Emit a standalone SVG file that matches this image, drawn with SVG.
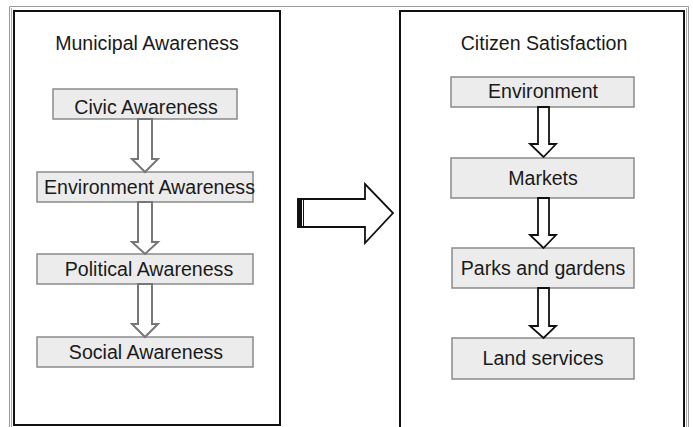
<svg xmlns="http://www.w3.org/2000/svg" width="693" height="427" viewBox="0 0 693 427">
<style>
text{font-family:"Liberation Sans",Arial,sans-serif;font-size:19.6px;fill:#1a1a1a;text-anchor:middle}
.box{fill:#ececec;stroke:#8a8a8a;stroke-width:1.5}
.frame{fill:none;stroke:#111;stroke-width:2}
.ga{fill:#fff;stroke:#777;stroke-width:2;stroke-linejoin:miter}
.ba{fill:#fff;stroke:#111;stroke-width:1.8}
</style>
<rect width="693" height="427" fill="#fff"/>
<g id="outer">
<path d="M9.5 427V6.5H688.5V427" fill="none" stroke="#999" stroke-width="1"/>
<line x1="11.5" y1="8" x2="11.5" y2="427" stroke="#aaa" stroke-width="1"/>
<line x1="686.5" y1="8" x2="686.5" y2="427" stroke="#aaa" stroke-width="1"/>
</g>
<g id="municipal">
<rect class="frame" x="14" y="11" width="266" height="414"/>
<text x="147" y="50">Municipal Awareness</text>
</g>
<g id="citizen">
<path class="frame" d="M400 427V11H684V427"/>
<text x="544" y="50">Citizen Satisfaction</text>
</g>
<g id="civic"><rect class="box" x="53" y="89" width="184" height="30"/><text x="146" y="114">Civic Awareness</text></g>
<g id="envaw"><rect class="box" x="37" y="172" width="216" height="30"/><text x="149.5" y="194">Environment Awareness</text></g>
<g id="political"><rect class="box" x="37" y="254" width="216" height="30"/><text x="149" y="276">Political Awareness</text></g>
<g id="social"><rect class="box" x="37" y="337" width="216" height="30"/><text x="146" y="359">Social Awareness</text></g>
<g id="environment"><rect class="box" x="451" y="77" width="183" height="30"/><text x="543" y="98">Environment</text></g>
<g id="markets"><rect class="box" x="451" y="158" width="183" height="40"/><text x="543" y="185">Markets</text></g>
<g id="parks"><rect class="box" x="452" y="248" width="182" height="40"/><text x="543" y="275">Parks and gardens</text></g>
<g id="land"><rect class="box" x="452" y="338" width="182" height="41"/><text x="543" y="365">Land services</text></g>
<g id="connectors">
<path class="ga" d="M138 119H152V159H158L145 172L132 159H138Z"/>
<path class="ga" d="M138 202H152V242H158L145 254L132 242H138Z"/>
<path class="ga" d="M138 284H152V324H158L145 337L132 324H138Z"/>
<path class="ba" d="M538 107H549V144H556L543.5 157L530 144H538Z"/>
<path class="ba" d="M538 198H549V235H556L543.5 248L530 235H538Z"/>
<path class="ba" d="M538 288H549V326H556L543.5 338L530 326H538Z"/>
<path class="ba" d="M298 199H365V184L393 213L365 243V227H298Z"/>
<rect x="297" y="199" width="5" height="28" fill="#111"/>
<line x1="303.5" y1="199" x2="303.5" y2="227" stroke="#111" stroke-width="1"/>
</g>
</svg>
